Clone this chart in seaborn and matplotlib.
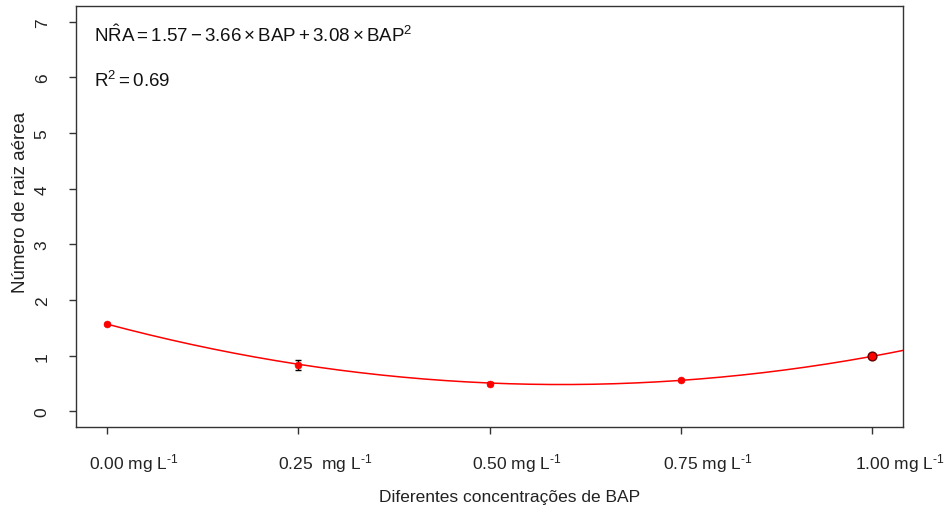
import matplotlib
matplotlib.use("Agg")
import matplotlib.pyplot as plt
import matplotlib.transforms as mtransforms
import seaborn as sns
import numpy as np
import pandas as pd

# dados
bap = [0.00, 0.25, 0.50, 0.75, 1.00]
nra = [1.57, 0.84, 0.50, 0.56, 1.00]
erro = [0.01, 0.09, 0.02, 0.02, 0.03]
rotulos = [r"0.00 mg L$^{\text{-1}}$", r"0.25  mg L$^{\text{-1}}$", r"0.50 mg L$^{\text{-1}}$",
           r"0.75 mg L$^{\text{-1}}$", r"1.00 mg L$^{\text{-1}}$"]
coef = [1.57, -3.66, 3.08]
r2 = 0.69

sns.set_theme(style="white")
plt.rcParams['font.family'] = ['Liberation Sans', 'DejaVu Sans']
plt.rcParams['mathtext.fontset'] = 'custom'
plt.rcParams['mathtext.rm'] = 'Liberation Sans'
plt.rcParams['mathtext.it'] = 'Liberation Sans:italic'

df = pd.DataFrame({"BAP": bap, "NRA": nra})
xc = np.linspace(0, 1.1, 200)
curva = pd.DataFrame({"BAP": xc, "NRA": coef[0] + coef[1] * xc + coef[2] * xc ** 2})

fig = plt.figure(figsize=(9.47, 5.10), dpi=100)
ax = fig.add_axes([0.0803, 0.1608, 0.8732, 0.8252])

sns.lineplot(data=curva, x="BAP", y="NRA", color="red", lw=1.1, ax=ax)
ax.errorbar(bap, nra, yerr=erro, fmt="none", ecolor="black", elinewidth=1, capsize=2)
sns.scatterplot(data=df.iloc[:-1], x="BAP", y="NRA", color="red", s=25,
                edgecolor="red", zorder=3, ax=ax)
sns.scatterplot(data=df.iloc[-1:], x="BAP", y="NRA", color="red", s=40,
                edgecolor="#600000", linewidth=1, zorder=3, ax=ax)

ax.set_xlim(-0.04, 1.04)
ax.set_ylim(-0.28, 7.28)
ax.set_xticks(bap)
ax.set_xticklabels(rotulos)
ax.set_yticks(range(8))
for t in ax.get_yticklabels():
    t.set_rotation(90)
    t.set_va("center")
ax.tick_params(axis="both", direction="out", length=5, width=1, color="#333333",
               labelsize=12.5, labelcolor="#222222", bottom=True, left=True)
ax.tick_params(axis="x", pad=12)
ax.tick_params(axis="y", pad=14)
# rótulos do eixo x deslocados para a direita, como no original
desloc = mtransforms.ScaledTranslation(27 / 100, 0, fig.dpi_scale_trans)
for t in ax.get_xticklabels():
    t.set_transform(t.get_transform() + desloc)
for s in ax.spines.values():
    s.set_color("#333333")
    s.set_linewidth(1)

ax.set_xlabel("Diferentes concentrações de BAP", fontsize=12.5, color="#222222", labelpad=11)
ax.set_ylabel("Número de raiz aérea", fontsize=13.5, color="#222222", labelpad=4)
ax.xaxis.label.set_x(0.524)
ax.yaxis.label.set_y(0.536)

ax.text(-0.016, 6.77,
        r"$\mathrm{N\hat{R}A} = 1.57 - 3.66 \times \mathrm{BAP} + 3.08 \times \mathrm{BAP}^2$",
        fontsize=13.5, va="center", ha="left", color="#111111")
ax.text(-0.016, 5.96, r"$\mathrm{R}^2 = %.2f$" % r2, fontsize=13.5, va="center",
        ha="left", color="#111111")

fig.savefig("out.png", dpi=100)
